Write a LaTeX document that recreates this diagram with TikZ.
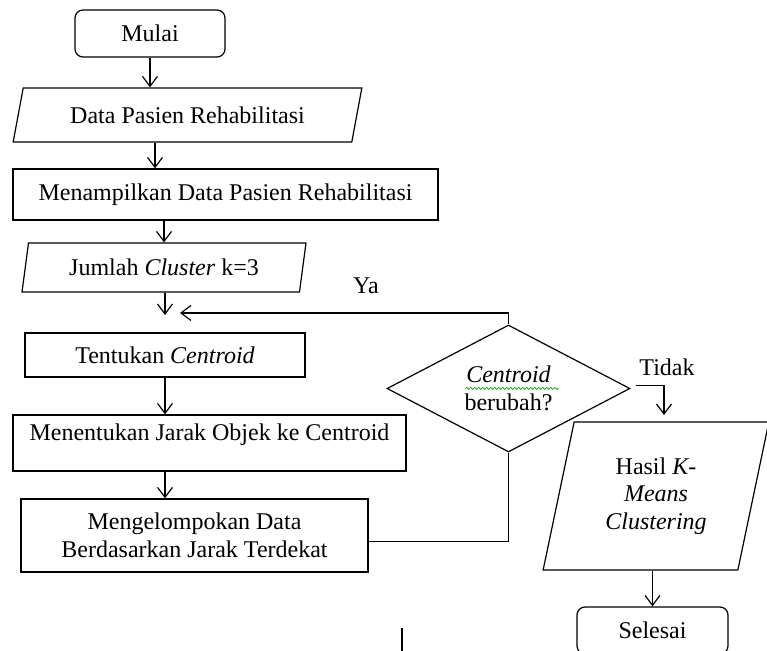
\documentclass[tikz,border=0pt]{standalone}
\usepackage{fontspec}
\setmainfont{Liberation Serif}
\usepackage{tikz}
\usetikzlibrary{shapes.geometric, arrows.meta}
\usetikzlibrary{decorations.pathmorphing}

\begin{document}
\begin{tikzpicture}[x=0.5pt,y=-0.5pt,
  font=\fontsize{12}{13.8}\selectfont,
  line width=0.6pt,
  >={Straight Barb[length=5pt,width=7.5pt]},
  terminal/.style={draw,rectangle,rounded corners=4pt,inner sep=0pt},
  process/.style={draw,rectangle,inner sep=0pt,align=center},
  io/.style={draw,trapezium,trapezium stretches=true,inner sep=0pt,align=center},
  decision/.style={draw,diamond,aspect=1.9,inner sep=0pt,align=center}]

\useasboundingbox (0,0) rectangle (767,651);
\clip (0,0) rectangle (767,651);

%\draw[step=50,gray!30,very thin] (0,0) grid (767,651);

\node[terminal,minimum width=75pt,minimum height=23.5pt] (start) at (150,33.5) {Mulai};
\node[io,trapezium left angle=67,trapezium right angle=113,minimum width=174.5pt,minimum height=27pt] (data) at (187.5,115) {Data Pasien Rehabilitasi};
\node[process,minimum width=212.5pt,minimum height=25.5pt] (tampil) at (225.5,194.5) {Menampilkan Data Pasien Rehabilitasi};
\node[io,trapezium left angle=75,trapezium right angle=105,minimum width=143pt,minimum height=24.5pt] (jumlah) at (164,267.5) {Jumlah \textit{Cluster} k=3};
\node[process,minimum width=140pt,minimum height=22pt] (tentukan) at (165,355) {Tentukan \textit{Centroid}};
\node[process,text depth=11pt,minimum width=196.5pt,minimum height=28pt] (jarak) at (209.5,443) {Menentukan Jarak Objek ke Centroid};
\node[process,minimum width=173.5pt,minimum height=36.5pt] (kelompok) at (194.5,535.5) {Mengelompokan Data\\Berdasarkan Jarak Terdekat};
\node[decision,minimum width=121.5pt,minimum height=63.5pt] (dec) at (508.5,388.5) {\textit{Centroid}\\berubah?};
\node[io,trapezium left angle=76,trapezium right angle=104,minimum width=113pt,minimum height=74pt] (hasil) at (656,496) {Hasil \textit{K-}\\\textit{Means}\\\textit{Clustering}};
\node[terminal,minimum width=75.5pt,minimum height=23.5pt] (selesai) at (652.5,630.5) {Selesai};

\node (ya) at (366,286) {Ya};
\node (tidak) at (667,367) {Tidak};

\coordinate (a2) at (155,0);
\coordinate (join) at (165,315);
\coordinate (yaend) at (180,313);
\coordinate (tidakend) at (664,415);

\draw[->] (start.south) -- (data.north -| start.south);
\draw[->] (data.south -| a2) -- (tampil.north -| a2);
\draw[->] (tampil.south -| jumlah.north) -- (jumlah.north);
\draw[->] (jumlah.south -| join) -- (join);
\draw[->] (tentukan.south) -- (jarak.north -| tentukan.south);
\draw[->] (jarak.south -| tentukan.south) -- (kelompok.north -| tentukan.south);

\draw[->] (dec.north) |- (yaend);
\draw ([yshift=-3pt]kelompok.east) -| (dec.south);
\draw[->] ([xshift=2.5pt,yshift=1.5pt]dec.east) -| (tidakend);
\draw[->] (hasil.south -| selesai.north) -- (selesai.north);

\draw[green!60!black,line width=0.35pt,decorate,decoration={snake,amplitude=0.5pt,segment length=2pt}]
  ([xshift=-21.5pt]dec.center) -- ([xshift=25pt]dec.center);

\draw[line width=1.2pt] (402,628) -- (402,651);
\end{tikzpicture}
\end{document}
